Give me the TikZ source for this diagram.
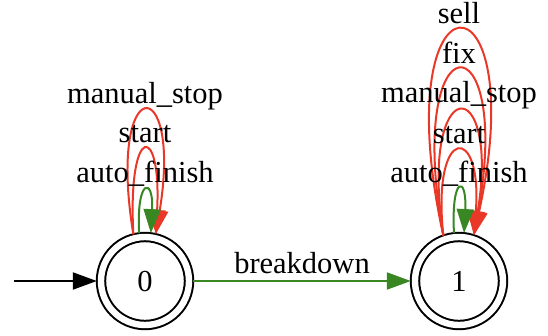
\documentclass[tikz,border=0pt]{standalone}
\usepackage{fontspec}
\setmainfont{Liberation Serif}
\usetikzlibrary{arrows.meta}
\definecolor{loopred}{RGB}{233,56,40}
\definecolor{edgegreen}{RGB}{56,135,35}
\tikzset{
  state/.style={circle, draw, line width=2pt, double, double distance=6.4pt, minimum size=88pt, inner sep=0pt, outer sep=4.2pt, font=\fontsize{30.5}{36}\selectfont},
  lbl/.style={anchor=base, inner sep=0pt, font=\fontsize{30.5}{36}\selectfont},
  conn/.style={line width=2pt, -{Triangle[length=24pt,width=17pt]}},
  redconn/.style={conn, draw=loopred},
  greenconn/.style={conn, draw=edgegreen},
}
\begin{document}
\begin{tikzpicture}[x=1pt,y=-1pt]
\useasboundingbox (0,0) rectangle (548,335);
\node[state] (n0) at (145,281) {0};
\node[state] (n1) at (459,281) {1};
\coordinate (init) at (14,281);
% initial arrow
\draw[conn, black] (init) -- (n0.west);
% breakdown
\draw[greenconn] (n0.east) -- (n1.west);
% loops on 0
\draw[redconn] (n0.104) .. controls +(-27,-164) and +(27,-164) .. (n0.77);
\draw[redconn] (n0.104) .. controls +(-6,-112) and +(6,-112) .. (n0.77);
\draw[greenconn] (n0.97) .. controls +(-3,-56) and +(3,-56) .. (n0.83);
% loops on 1
\draw[redconn] (n1.109) .. controls +(-60,-273) and +(60,-273) .. (n1.72);
\draw[redconn] (n1.109) .. controls +(-40,-220) and +(40,-220) .. (n1.72);
\draw[redconn] (n1.109) .. controls +(-25,-165) and +(27,-165) .. (n1.72);
\draw[redconn] (n1.109) .. controls +(-12,-112) and +(9,-112) .. (n1.72);
\draw[greenconn] (n1.96) .. controls +(-3,-58) and +(3,-58) .. (n1.84);
% labels
\node[lbl] (l0a) at (145,103) {manual\_stop};
\node[lbl] (l0b) at (145,142) {start};
\node[lbl] (l0c) at (145,182) {auto\_finish};
\node[lbl] (l1a) at (459,23) {sell};
\node[lbl] (l1b) at (459,63) {fix};
\node[lbl] (l1c) at (459,102) {manual\_stop};
\node[lbl] (l1d) at (459,143) {start};
\node[lbl] (l1e) at (459,182) {auto\_finish};
\node[lbl] (lbd) at (302,273) {breakdown};
\end{tikzpicture}
\end{document}
